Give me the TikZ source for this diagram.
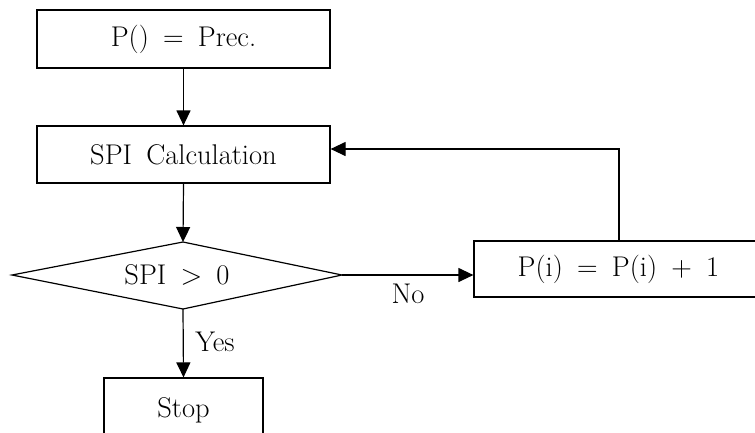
\documentclass[tikz,border=0pt]{standalone}
\usetikzlibrary{arrows.meta,calc}
\begin{document}
\begin{tikzpicture}[x=1pt,y=-1pt,
  every node/.style={font=\fontsize{28.5}{34}\selectfont, inner sep=0pt,
    execute at begin node={\spaceskip=0.5em\relax}},
  box/.style={draw, line width=1.2pt, anchor=center},
  conn/.style={line width=1.2pt, -{Triangle[length=15pt,width=14pt]}},
  plain/.style={line width=1.2pt}]
\useasboundingbox (0,0) rectangle (755,432);
\clip (0,0) rectangle (755,432);
\node[box, minimum width=293pt, minimum height=58pt] (b1) at (183.5,39) {P() = Prec.};
\node[box, minimum width=293pt, minimum height=57pt] (b2) at (183.5,154.5) {SPI Calculation};
\coordinate (dl) at (12,275);
\coordinate (dt) at (183,242);
\coordinate (dr) at (342,275);
\coordinate (db) at (183,309);
\draw[plain, line join=miter] (dl) -- (dt) -- (dr) -- (db) -- cycle;
\node (d) at (177,275) {SPI > 0};
\node[box, minimum width=300pt, minimum height=56pt] (b3) at (624,269) {};
\node (b3t) at (618.5,269) {P(i) = P(i) + 1};
\node[box, minimum width=159pt, minimum height=64pt] (stop) at (183.5,410) {Stop};
\coordinate (fb) at (619,149);
\draw[conn] (b1.south) -- (b2.north);
\draw[conn] (b2.south) -- (dt);
\draw[conn] (dr) -- (dr -| b3.west);
\draw[conn] (db) -- (stop.north);
\draw[conn] (b3.north -| fb) -- (fb) -- (fb -| b2.east);
\node (no) at (408,294) {No};
\node (yes) at (215,342) {Yes};
\end{tikzpicture}
\end{document}
